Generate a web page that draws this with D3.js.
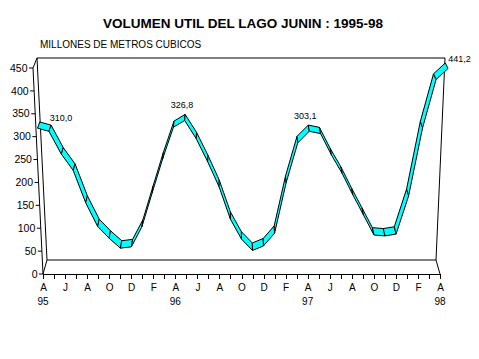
<!DOCTYPE html>
<html><head><meta charset="utf-8">
<script src="https://cdn.jsdelivr.net/npm/d3@7"></script>
<style>
body{margin:0;background:#fff}
svg{display:block}
text{font-family:"Liberation Sans",Arial,sans-serif;fill:#000}
</style>
</head><body>
<svg id="c" width="479" height="359"></svg>
<script>
// ---- data ----
const monthLetters = ["A","M","J","J","A","S","O","N","D","E","F","M",
                      "A","M","J","J","A","S","O","N","D","E","F","M",
                      "A","M","J","J","A","S","O","N","D","E","F","M","A"];
const yearLabels = ["95","96","97","98"];
const yearIndex = [0,12,24,36];
const volume = [310.0,303,253,217,146,94,68,46,49,93,168,243,
                312,326.8,287,236,181,110,66,41,51,79,190,278,
                303.1,298,251,210,163,119,75,73,77,161,311,417,441.2];
const labelIndex = [0,13,24,36];
const yTicks = [0,50,100,150,200,250,300,350,400,450];

// ---- layout ----
const svg = d3.select("#c");
const F = {bl:[43,274], tl:[33,68], br:[440,274], tr:[450,68]};   // front plane
const B = {bl:[47,260], tl:[37,58], br:[436,260], tr:[445,58]};   // back wall
const xs = d3.scaleLinear().domain([0, volume.length-1]).range([0,1]);
const ys = d3.scaleLinear().domain([0,450]).range([0,1]);
const lerp = (a,b,t)=>[a[0]+(b[0]-a[0])*t, a[1]+(b[1]-a[1])*t];
function facePt(P,u,t){ return lerp(lerp(P.bl,P.br,u), lerp(P.tl,P.tr,u), t); }
function proj(i,v,z){ const u=xs(i), t=ys(v); return lerp(facePt(F,u,t), facePt(B,u,t), z); }

// title
svg.append("text").attr("x",243).attr("y",28.3).attr("text-anchor","middle")
  .style("font-weight","bold").style("font-size","13.5px")
  .text("VOLUMEN UTIL DEL LAGO JUNIN : 1995-98");
svg.append("text").attr("x",40).attr("y",48.3).style("font-size","10px")
  .text("MILLONES DE METROS CUBICOS");

const g = svg.append("g").attr("fill","none").attr("stroke","#000").attr("stroke-width",1);
const line = d3.line();
// back wall
g.append("path").attr("d", line([B.tl,B.tr,B.br,B.bl]) + "Z");
// connectors
g.append("path").attr("d", line([F.tl,B.tl]));
g.append("path").attr("d", line([F.bl,B.bl]));
g.append("path").attr("d", line([F.br,B.br]));
// front y axis
g.append("path").attr("d", line([F.bl,F.tl]));
yTicks.forEach(v=>{
  const p = proj(0,v,0);
  g.append("path").attr("d", line([[p[0]-4,p[1]],p]));
  svg.append("text").attr("x",p[0]-5.5).attr("y",p[1]).attr("dy","0.35em")
    .attr("text-anchor","end").style("font-size","10.5px").text(v);
});

// x axis
const xFront = d3.scaleLinear().domain([0,volume.length-1]).range([F.bl[0],F.br[0]]);
const xAxis = d3.axisBottom(xFront).tickValues(d3.range(volume.length))
  .tickSize(5).tickSizeOuter(0).tickPadding(4.5)
  .tickFormat(i => i%2===0 ? monthLetters[i] : "");
const ax = svg.append("g").attr("transform",`translate(0,${F.bl[1]})`).call(xAxis);
ax.selectAll("text").style("font-size","10px").style("font-family",'"Liberation Sans",Arial,sans-serif');
ax.selectAll("line,path").attr("stroke","#000").attr("shape-rendering","crispEdges");
yearIndex.forEach((i,k)=>{
  svg.append("text").attr("x",xFront(i)).attr("y",304.5).attr("text-anchor","middle")
    .style("font-size","10px").text(yearLabels[k]);
});

// ribbon
const zf = 0.35, zb = 0.9;
const rib = svg.append("g");
for(let k=0;k<volume.length-1;k++){
  const pts = [proj(k,volume[k],zf), proj(k+1,volume[k+1],zf),
               proj(k+1,volume[k+1],zb), proj(k,volume[k],zb)];
  rib.append("path").attr("d", line(pts)+"Z")
    .attr("fill","#00ffff").attr("stroke","#000").attr("stroke-width",1)
    .attr("stroke-linejoin","round");
}

// data labels
const fmt = v => d3.format(".1f")(v).replace(".",",");
labelIndex.forEach(i=>{
  const p = proj(i,volume[i],zb);
  const first = i===0, last = i===volume.length-1;
  svg.append("text")
    .attr("x", first ? p[0]+10 : last ? p[0]+3 : p[0]-3)
    .attr("y", (first||last) ? p[1]-1 : p[1]-6.5)
    .attr("text-anchor", (first||last) ? "start" : "middle")
    .style("font-size","9px").text(fmt(volume[i]));
});
</script>
</body></html>
